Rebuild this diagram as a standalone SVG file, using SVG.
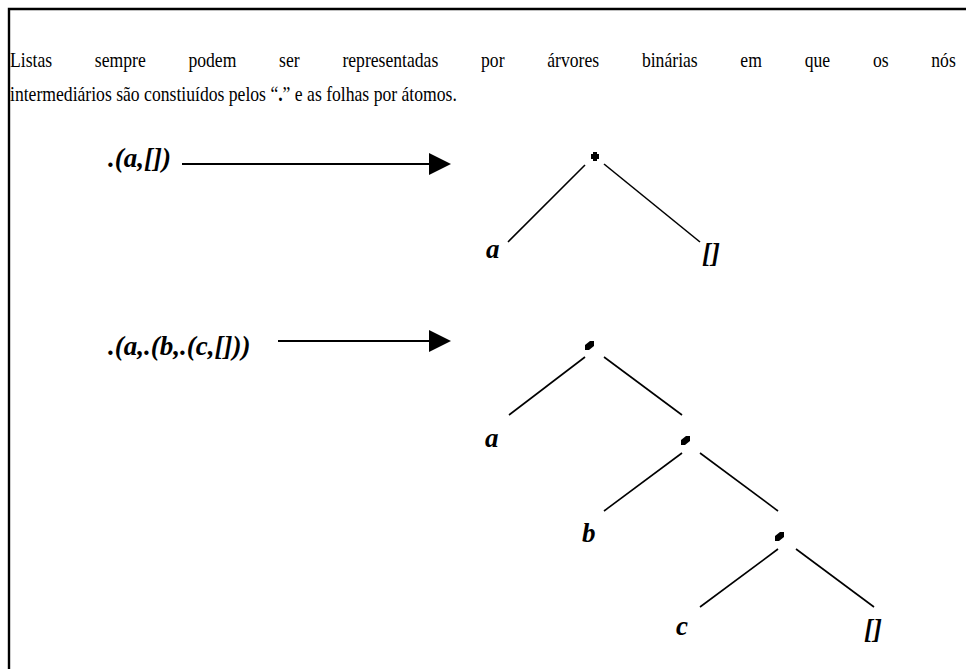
<svg xmlns="http://www.w3.org/2000/svg" width="966" height="669" viewBox="0 0 966 669">
<style>
.body{font-family:"Liberation Serif","Times New Roman",serif;font-size:21px;fill:#000}
.lbl{font-family:"Liberation Serif","Times New Roman",serif;font-size:27px;font-weight:bold;font-style:italic;fill:#000}
.edge{stroke:#000;stroke-width:1.6;fill:none}
.arr{stroke:#000;stroke-width:2.2;fill:none}
.dot{fill:#000}
</style>
<rect width="966" height="669" fill="#fff"/>
<path d="M9,680 V9 H980" stroke="#000" stroke-width="2.4" fill="none"/>
<g id="paragraph" transform="scale(0.84,1)">
<text class="body" y="67"><tspan x="11.9">Listas</tspan><tspan x="112.9">sempre</tspan><tspan x="224.3">podem</tspan><tspan x="332.3">ser</tspan><tspan x="407.6">representadas</tspan><tspan x="572.7">por</tspan><tspan x="651.5">árvores</tspan><tspan x="764.2">binárias</tspan><tspan x="881.4">em</tspan><tspan x="958.0">que</tspan><tspan x="1039.2">os</tspan><tspan x="1108.7">nós</tspan></text>
<text class="body" x="11.9" y="101">intermediários são constiuídos pelos “<tspan font-weight="bold">.</tspan>” e as folhas por átomos.</text>
</g>
<g id="connectors">
<line class="arr" x1="182" y1="164" x2="430" y2="164"/>
<path d="M429,153 L451,164 L429,175 Z" fill="#000"/>
<line class="arr" x1="278" y1="341" x2="430" y2="341"/>
<path d="M429,330 L451,341 L429,352 Z" fill="#000"/>
<line class="edge" x1="585" y1="165" x2="508" y2="242"/>
<line class="edge" x1="604" y1="164" x2="700" y2="242"/>
<line class="edge" x1="585" y1="357" x2="509" y2="415"/>
<line class="edge" x1="604" y1="357" x2="682" y2="415"/>
<line class="edge" x1="682" y1="453" x2="604" y2="511"/>
<line class="edge" x1="700" y1="453" x2="778" y2="511"/>
<line class="edge" x1="778" y1="549" x2="700" y2="607"/>
<line class="edge" x1="796" y1="549" x2="874" y2="607"/>
</g>
<g id="label1"><text class="lbl" x="108" y="167">.(a,[])</text></g>
<g id="label2"><text class="lbl" x="108" y="355">.(a,.(b,.(c,[]))</text></g>
<g id="t1-root"><path class="dot" d="M593,152 h4 v2 h2 v5 h-2 v2 h-4 v-2 h-2 v-5 h2 z"/></g>
<g id="t1-a"><text class="lbl" x="486" y="258">a</text></g>
<g id="t1-nil"><text class="lbl" x="702" y="262">[]</text></g>
<g id="t2-root"><path class="dot" d="M585,347 v-2 l5,-4 h4 v5 l-5,4 h-4 z"/></g>
<g id="t2-a"><text class="lbl" x="485" y="447">a</text></g>
<g id="t2-n2"><path class="dot" d="M681,442 v-2 l5,-4 h4 v5 l-5,4 h-4 z"/></g>
<g id="t2-b"><text class="lbl" x="582" y="542">b</text></g>
<g id="t2-n3"><path class="dot" d="M775,538 v-2 l5,-4 h4 v5 l-5,4 h-4 z"/></g>
<g id="t2-c"><text class="lbl" x="676" y="635">c</text></g>
<g id="t2-nil"><text class="lbl" x="864" y="638">[]</text></g>
</svg>
